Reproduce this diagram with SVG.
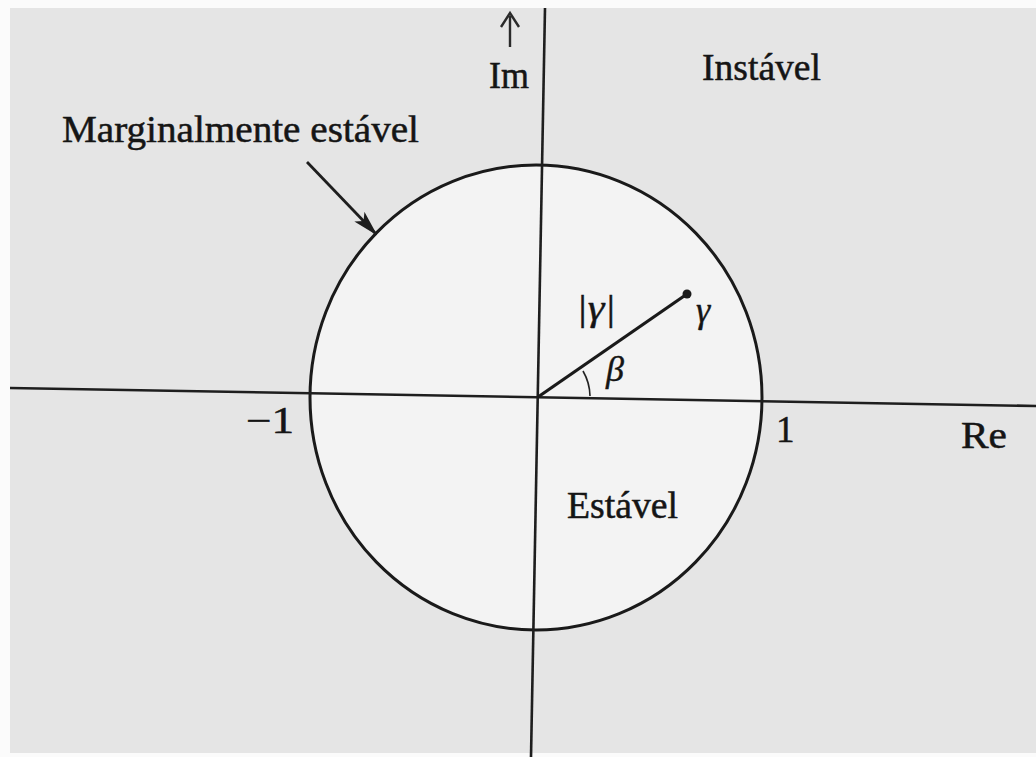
<svg xmlns="http://www.w3.org/2000/svg" width="1036" height="757" viewBox="0 0 1036 757">
<style>
.t{font-family:"Liberation Serif","Times New Roman",serif;font-size:37px;fill:#151515;stroke:#151515;stroke-width:0.5}
.g{font-family:"Liberation Serif","DejaVu Serif",serif;font-style:italic;font-size:36px;fill:#151515;stroke:#151515;stroke-width:0.4}
.ax{stroke:#1e1e1e;stroke-width:2.6;fill:none}
</style>
<defs>
<marker id="ah" markerWidth="26" markerHeight="14" refX="24" refY="7" orient="auto" markerUnits="userSpaceOnUse" viewBox="0 0 26 14">
<path d="M0,0 L26,7 L0,14 L6,7 Z" fill="#1e1e1e"/>
</marker>
</defs>
<rect x="0" y="0" width="1036" height="757" fill="#fbfbfb"/>
<rect x="10" y="8" width="1026" height="745" fill="#e5e5e5"/>
<g id="unit-circle">
<ellipse cx="536" cy="397.5" rx="226" ry="232.5" fill="#f3f3f3" stroke="#1a1a1a" stroke-width="3"/>
</g>
<g id="connectors">
<line class="ax" x1="10" y1="388" x2="1036" y2="406"/>
<line class="ax" x1="545" y1="8" x2="531" y2="757"/>
<line x1="538" y1="397" x2="687" y2="294" stroke="#1a1a1a" stroke-width="3.2"/>
<path d="M590,396 A52,52 0 0 0 583,371" stroke="#222" stroke-width="1.6" fill="none"/>
<line x1="307" y1="162" x2="376" y2="234" stroke="#1e1e1e" stroke-width="2.8" marker-end="url(#ah)"/>
<path d="M510,47 L510,16 M501,27 L510,13 L519,27" stroke="#2a2a2a" stroke-width="2.4" fill="none"/>
</g>
<g id="point-gamma">
<circle cx="687" cy="294" r="4.5" fill="#1a1a1a"/>
</g>
<g id="labels">
<text class="t" x="489" y="88" textLength="40" lengthAdjust="spacingAndGlyphs">Im</text>
<text class="t" x="702" y="80" textLength="119" lengthAdjust="spacingAndGlyphs">Instável</text>
<text class="t" x="62" y="142" textLength="357" lengthAdjust="spacingAndGlyphs">Marginalmente estável</text>
<text class="t" x="246" y="433" textLength="48" lengthAdjust="spacingAndGlyphs">−1</text>
<text class="t" x="776" y="442">1</text>
<text class="t" x="961" y="448" textLength="46" lengthAdjust="spacingAndGlyphs">Re</text>
<text class="t" x="567" y="518" textLength="111" lengthAdjust="spacingAndGlyphs">Estável</text>
<text class="g" x="576" y="320" textLength="40" lengthAdjust="spacingAndGlyphs">|γ|</text>
<text class="g" x="696" y="322">γ</text>
<text class="g" x="606" y="381">β</text>
</g>
</svg>
